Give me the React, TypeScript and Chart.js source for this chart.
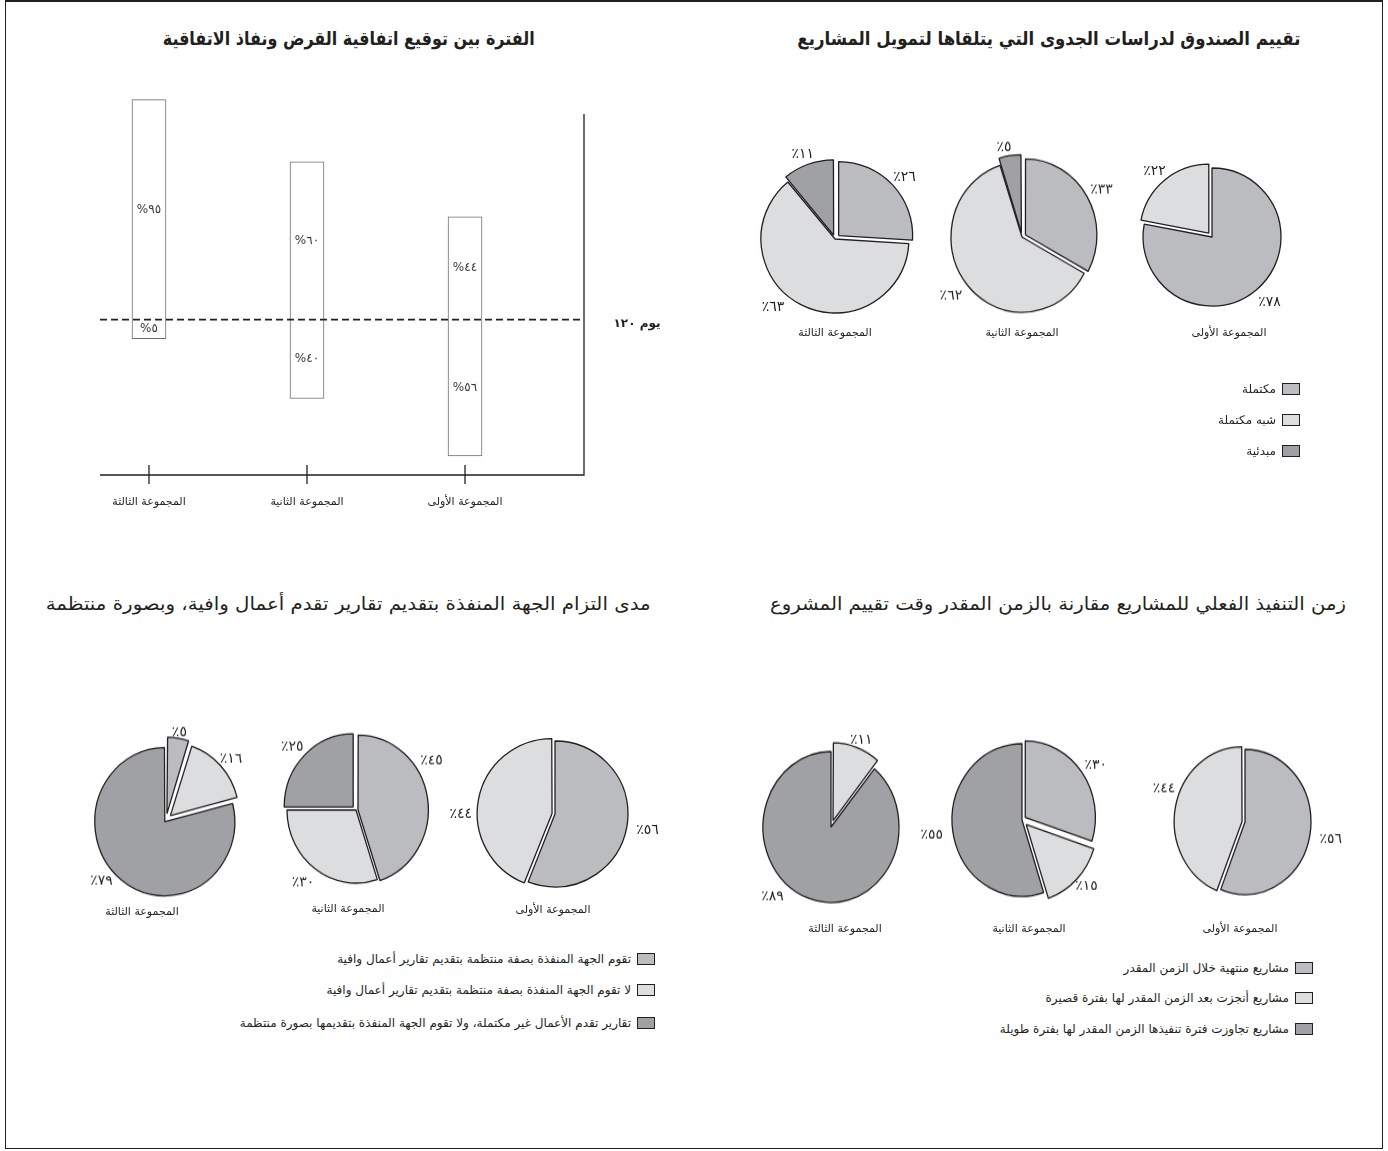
import React, { useEffect, useLayoutEffect, useRef } from "react";
import { Chart, registerables } from "chart.js";

Chart.register(...registerables);

// ---------- shared ----------
const INK = "#231F20";
const MEDIUM = "#BBBCBF";
const LIGHT = "#DCDDDF";
const DARK = "#A0A1A4";
const SLICE_COLORS = [MEDIUM, LIGHT, DARK];
const FONT = '"DejaVu Sans", sans-serif';

// group index 0 = first group, 1 = second, 2 = third
const groupNames = ["المجموعة الأولى", "المجموعة الثانية", "المجموعة الثالثة"];

// ---------- top-left: period between signing and effectiveness ----------
const tlTitle = "الفترة بين توقيع اتفاقية القرض ونفاذ الاتفاقية";
const tlPctAbove = [44, 60, 95];
const tlPctBelow = [56, 40, 5];
// drawn bar extents (bar-length units) above / below the 120-day line
const tlBarAbove = [43, 66, 92];
const tlBarBelow = [57, 33, 8];
const tlThresholdLabel = "يوم ١٢٠";

// ---------- top-right: feasibility studies ----------
const trTitle = "تقييم الصندوق لدراسات الجدوى التي يتلقاها لتمويل المشاريع";
const trCategories = ["مكتملة", "شبه مكتملة", "مبدئية"];
const trComplete = [78, 33, 26];
const trNearlyComplete = [22, 62, 63];
const trPreliminary = [0, 5, 11];

// ---------- bottom-left: progress reports ----------
const blTitle = "مدى التزام الجهة المنفذة بتقديم تقارير تقدم أعمال وافية، وبصورة منتظمة";
const blCategories = [
  "تقوم الجهة المنفذة بصفة منتظمة بتقديم تقارير أعمال وافية",
  "لا تقوم الجهة المنفذة بصفة منتظمة بتقديم تقارير أعمال وافية",
  "تقارير تقدم الأعمال غير مكتملة، ولا تقوم الجهة المنفذة بتقديمها بصورة منتظمة",
];
const blRegular = [56, 45, 5];
const blNotRegular = [44, 30, 16];
const blIncomplete = [0, 25, 79];

// ---------- bottom-right: actual vs estimated time ----------
const brTitle = "زمن التنفيذ الفعلي للمشاريع مقارنة بالزمن المقدر وقت تقييم المشروع";
const brCategories = [
  "مشاريع منتهية خلال الزمن المقدر",
  "مشاريع أنجزت بعد الزمن المقدر لها بفترة قصيرة",
  "مشاريع تجاوزت فترة تنفيذها الزمن المقدر لها بفترة طويلة",
];
const brOnTime = [56, 30, 0];
const brShortDelay = [44, 15, 11];
const brLongDelay = [0, 55, 89];

// ---------- helpers ----------
function toArabicDigits(n: number): string {
  return String(n).replace(/[0-9]/g, (d) => "٠١٢٣٤٥٦٧٨٩"[+d]);
}

// layout only: centre, radius, vertical stretch, slice explode (px), label position inside slice angle (0..1)
type PieSpec = { g: number; cx: number; cy: number; r: number; s: number; offsets: number[]; labelFrac?: number[] };

const trPies: PieSpec[] = [
  { g: 0, cx: 1212, cy: 237, r: 69, s: 1.0, offsets: [0, 5, 0] },
  { g: 1, cx: 1022, cy: 237, r: 71, s: 1.06, offsets: [4, 0, 4], labelFrac: [0.5, 0.5, 0.35] },
  { g: 2, cx: 835, cy: 239, r: 74, s: 1.0, offsets: [5, 0, 4], labelFrac: [0.5, 0.56, 0.5] },
];
const blPies: PieSpec[] = [
  { g: 0, cx: 555, cy: 814, r: 73, s: 1.0, offsets: [0, 3, 0], labelFrac: [0.5, 0.43, 0.5] },
  { g: 1, cx: 356, cy: 810, r: 69, s: 1.06, offsets: [2, 0, 4], labelFrac: [0.35, 0.5, 0.5] },
  { g: 2, cx: 166, cy: 820, r: 68, s: 1.06, offsets: [6, 6, 2], labelFrac: [0.5, 0.5, 0.53] },
];
const brPies: PieSpec[] = [
  { g: 0, cx: 1245, cy: 822, r: 66, s: 1.1, offsets: [0, 3, 0], labelFrac: [0.5, 0.57, 0.5] },
  { g: 1, cx: 1022, cy: 820, r: 70, s: 1.09, offsets: [4, 6, 0] },
  { g: 2, cx: 831, cy: 827, r: 68, s: 1.11, offsets: [0, 6, 0], labelFrac: [0.5, 0.5, 0.566] },
];

const pieLabelPlugin = {
  id: "pieLabels",
  afterDatasetsDraw(chart: any, _args: any, opts: any) {
    const ctx = chart.ctx;
    const meta = chart.getDatasetMeta(0);
    const ds = chart.data.datasets[0];
    const fracs: number[] = opts.fracs || [];
    ctx.save();
    ctx.font = opts.font;
    ctx.fillStyle = opts.color;
    ctx.textAlign = "center";
    ctx.textBaseline = "middle";
    meta.data.forEach((arc: any, i: number) => {
      const v = ds.data[i];
      if (!v) return;
      const p = arc.getProps(["x", "y", "startAngle", "endAngle", "outerRadius"], true);
      const f = fracs[i] ?? 0.5;
      const mid = p.startAngle + (p.endAngle - p.startAngle) * f;
      const c = Math.cos(mid);
      const s = Math.sin(mid);
      const rr = p.outerRadius + opts.gap;
      const text = "٪" + toArabicDigits(v);
      const w = ctx.measureText(text).width;
      ctx.save();
      ctx.translate(p.x + c * rr, p.y + s * rr);
      ctx.scale(1, 1 / opts.stretch);
      ctx.fillText(text, (c * w) / 2, (s * opts.textHeight) / 2);
      ctx.restore();
    });
    ctx.restore();
  },
};

function Pie({ values, spec, labels }: { values: number[]; spec: PieSpec; labels: string[] }) {
  const ref = useRef<HTMLCanvasElement>(null);
  const size = Math.round(2 * (spec.r + 48));
  useEffect(() => {
    const chart = new Chart(ref.current as HTMLCanvasElement, {
      type: "pie",
      data: {
        labels,
        datasets: [
          {
            data: values,
            backgroundColor: SLICE_COLORS,
            borderColor: INK,
            borderWidth: 1.3,
            // Chart.js translates an arc by offset / 4
            offset: spec.offsets.map((o) => o * 4),
          },
        ],
      },
      options: {
        animation: false,
        responsive: false,
        radius: spec.r,
        events: [],
        plugins: {
          legend: { display: false },
          tooltip: { enabled: false },
          pieLabels: {
            font: `14px ${FONT}`,
            color: INK,
            gap: 10,
            stretch: spec.s,
            textHeight: 12,
            fracs: spec.labelFrac,
          },
        } as any,
      } as any,
      plugins: [pieLabelPlugin as any],
    });
    return () => chart.destroy();
  }, []);
  return (
    <div
      style={{
        position: "absolute",
        left: spec.cx - size / 2,
        top: spec.cy - size / 2,
        width: size,
        height: size,
        transform: `scaleY(${spec.s})`,
        transformOrigin: "50% 50%",
      }}
    >
      <canvas ref={ref} width={size} height={size} style={{ display: "block" }} />
    </div>
  );
}

function Text({
  x,
  y,
  text,
  align = "center",
  size = 12,
  bold = false,
}: {
  x: number;
  y: number;
  text: string;
  align?: "center" | "right";
  size?: number;
  bold?: boolean;
}) {
  const W = 900;
  const left = align === "right" ? x - W : x - W / 2;
  return (
    <div
      dir="rtl"
      style={{
        position: "absolute",
        left,
        top: y - size,
        width: W,
        height: size * 2,
        lineHeight: `${size * 2}px`,
        textAlign: align,
        fontFamily: FONT,
        fontSize: size,
        fontWeight: bold ? "bold" : "normal",
        color: INK,
        whiteSpace: "nowrap",
      }}
    >
      {text}
    </div>
  );
}

function Title({ right, y, width, text, size, bold }: { right: number; y: number; width: number; text: string; size: number; bold?: boolean }) {
  const ref = useRef<HTMLSpanElement>(null);
  useLayoutEffect(() => {
    const el = ref.current;
    if (!el) return;
    el.style.transform = "none";
    const w = el.getBoundingClientRect().width;
    if (w > 0) el.style.transform = `scaleX(${width / w})`;
  }, []);
  return (
    <div
      dir="rtl"
      style={{
        position: "absolute",
        left: right - 1000,
        top: y - size,
        width: 1000,
        height: size * 2,
        lineHeight: `${size * 2}px`,
        textAlign: "right",
        fontFamily: FONT,
        fontSize: size,
        fontWeight: bold ? "bold" : "normal",
        color: INK,
        whiteSpace: "nowrap",
      }}
    >
      <span ref={ref} style={{ display: "inline-block", transformOrigin: "100% 50%" }}>
        {text}
      </span>
    </div>
  );
}

function Legend({ items, boxLeft, rows, size }: { items: string[]; boxLeft: number; rows: number[]; size: number }) {
  return (
    <>
      {items.map((t, i) => (
        <React.Fragment key={i}>
          <div
            style={{
              position: "absolute",
              left: boxLeft,
              top: rows[i] - 6,
              width: 18,
              height: 12,
              boxSizing: "border-box",
              border: `1px solid ${INK}`,
              background: SLICE_COLORS[i],
            }}
          />
          <Text x={boxLeft - 6} y={rows[i]} text={t} align="right" size={size} />
        </React.Fragment>
      ))}
    </>
  );
}

function BarPanel() {
  const ref = useRef<HTMLCanvasElement>(null);
  useEffect(() => {
    const decor = {
      id: "tlDecor",
      afterDatasetsDraw(chart: any) {
        const { ctx, chartArea: a } = chart;
        const x = chart.scales.x;
        const y = chart.scales.y;
        ctx.save();
        ctx.strokeStyle = INK;
        ctx.lineWidth = 1.3;
        ctx.beginPath();
        ctx.moveTo(a.left, a.bottom);
        ctx.lineTo(a.right, a.bottom);
        ctx.lineTo(a.right, a.top);
        ctx.stroke();
        ctx.fillStyle = INK;
        ctx.textAlign = "center";
        ctx.textBaseline = "middle";
        ctx.font = `11px ${FONT}`;
        groupNames.forEach((name, i) => {
          const px = x.getPixelForValue(i);
          ctx.beginPath();
          ctx.moveTo(px, a.bottom - 10);
          ctx.lineTo(px, a.bottom + 9);
          ctx.stroke();
          ctx.fillText(name, px, a.bottom + 27);
        });
        const y0 = y.getPixelForValue(0);
        ctx.setLineDash([7, 4]);
        ctx.lineWidth = 1.8;
        ctx.beginPath();
        ctx.moveTo(a.left, y0);
        ctx.lineTo(a.right, y0);
        ctx.stroke();
        ctx.setLineDash([]);
        ctx.font = `bold 12px ${FONT}`;
        ctx.fillText(tlThresholdLabel, a.right + 53, y0 + 4);
        ctx.font = `12px ${FONT}`;
        ctx.fillStyle = "#3a3a3a";
        groupNames.forEach((_, i) => {
          const px = x.getPixelForValue(i);
          ctx.fillText("%" + toArabicDigits(tlPctAbove[i]), px, y.getPixelForValue(tlBarAbove[i] / 2));
          ctx.fillText("%" + toArabicDigits(tlPctBelow[i]), px, y.getPixelForValue(-tlBarBelow[i] / 2));
        });
        ctx.restore();
      },
    };
    const chart = new Chart(ref.current as HTMLCanvasElement, {
      type: "bar",
      data: {
        datasets: [
          {
            data: groupNames.map((_, i) => ({ x: i, y: [-tlBarBelow[i], tlBarAbove[i]] })) as any,
            backgroundColor: "#ffffff",
            borderColor: "#6D6E71",
            borderWidth: 1,
            borderSkipped: false,
            barThickness: 34,
            clip: false as any,
          },
        ],
      },
      options: {
        animation: false,
        responsive: false,
        events: [],
        layout: { padding: { left: 100, right: 116, top: 54, bottom: 65 } },
        scales: {
          x: { type: "linear", offset: false, bounds: "data", reverse: true, min: -0.753, max: 2.31, display: false },
          y: { type: "linear", bounds: "data", min: -65, max: 86, display: false },
        },
        plugins: { legend: { display: false }, tooltip: { enabled: false } },
      } as any,
      plugins: [decor as any],
    });
    return () => chart.destroy();
  }, []);
  return (
    <div style={{ position: "absolute", left: 0, top: 60, width: 700, height: 480 }}>
      <canvas ref={ref} width={700} height={480} style={{ display: "block" }} />
    </div>
  );
}

function seriesFor(g: number, a: number[], b: number[], c: number[]) {
  return [a[g], b[g], c[g]];
}

export default function App() {
  const trGroupLabelXY = [
    [1229, 333],
    [1022, 333],
    [835, 333],
  ];
  const blGroupLabelXY = [
    [553, 910],
    [348, 909],
    [142, 912],
  ];
  const brGroupLabelXY = [
    [1240, 929],
    [1029, 929],
    [845, 929],
  ];
  return (
    <div style={{ position: "absolute", left: 0, top: 0, width: 1388, height: 1151, background: "#fff", overflow: "hidden" }}>
      <div
        style={{
          position: "absolute",
          left: 5,
          top: 0,
          width: 1378,
          height: 1149,
          boxSizing: "border-box",
          border: `1px solid ${INK}`,
          borderTopWidth: 2,
        }}
      />

      {/* top-left */}
      <Title right={535} y={38} width={372} text={tlTitle} size={19} bold />
      <BarPanel />

      {/* top-right */}
      <Title right={1300} y={38} width={503} text={trTitle} size={19} bold />
      {trPies.map((p) => (
        <Pie key={"tr" + p.g} spec={p} labels={trCategories} values={seriesFor(p.g, trComplete, trNearlyComplete, trPreliminary)} />
      ))}
      {trGroupLabelXY.map(([x, y], g) => (
        <Text key={"trg" + g} x={x} y={y} text={groupNames[g]} size={11} />
      ))}
      <Legend items={trCategories} boxLeft={1282} rows={[389, 420, 451]} size={12} />

      {/* bottom-left */}
      <Title right={651} y={604} width={605} text={blTitle} size={18} />
      {blPies.map((p) => (
        <Pie key={"bl" + p.g} spec={p} labels={blCategories} values={seriesFor(p.g, blRegular, blNotRegular, blIncomplete)} />
      ))}
      {blGroupLabelXY.map(([x, y], g) => (
        <Text key={"blg" + g} x={x} y={y} text={groupNames[g]} size={11} />
      ))}
      <Legend items={blCategories} boxLeft={637} rows={[959, 990, 1023]} size={12} />

      {/* bottom-right */}
      <Title right={1346} y={604} width={576} text={brTitle} size={18} />
      {brPies.map((p) => (
        <Pie key={"br" + p.g} spec={p} labels={brCategories} values={seriesFor(p.g, brOnTime, brShortDelay, brLongDelay)} />
      ))}
      {brGroupLabelXY.map(([x, y], g) => (
        <Text key={"brg" + g} x={x} y={y} text={groupNames[g]} size={11} />
      ))}
      <Legend items={brCategories} boxLeft={1295} rows={[968, 998, 1029]} size={12} />
    </div>
  );
}
